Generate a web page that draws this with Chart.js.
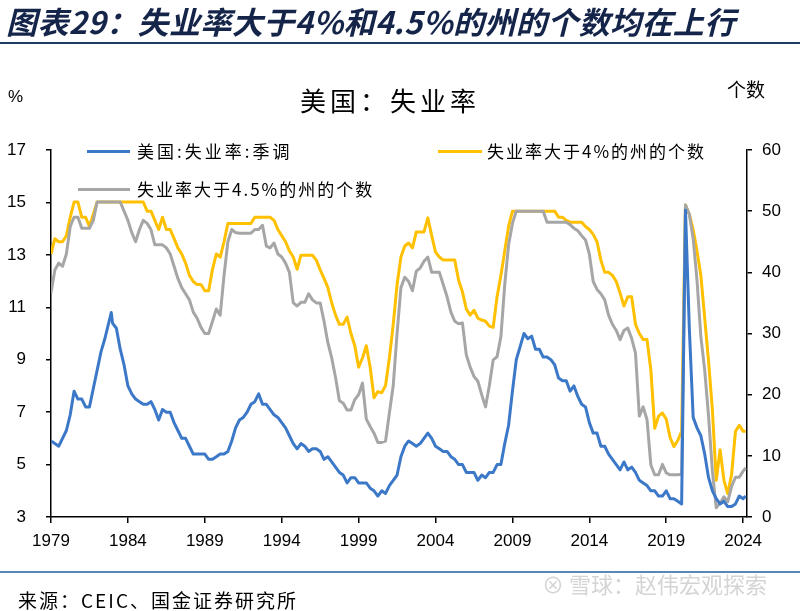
<!DOCTYPE html>
<html>
<head>
<meta charset="utf-8">
<script src="https://cdn.jsdelivr.net/npm/chart.js@4"></script>
<style>
  body { margin: 0; background: #fff; }
  #page { position: relative; width: 800px; height: 611px; overflow: hidden; font-family: "Noto Sans CJK SC", sans-serif; }
  #box { position: absolute; left: 0; top: 0; width: 800px; height: 611px; }
  .t { position: absolute; white-space: nowrap; line-height: 1; color: #000; }
  .ln { position: absolute; height: 3px; }
</style>
</head>
<body>
<div id="page">
  <div id="box"><canvas id="chart"></canvas></div>

  <div class="t" style="left:6px;top:5px;font-size:31px;font-weight:bold;font-style:italic;color:#15254a;letter-spacing:0.4px">图表29：失业率大于4%和4.5%的州的个数均在上行</div>
  <div style="position:absolute;left:0;top:42px;width:800px;height:2px;background:#1f3a60"></div>

  <div class="t" style="left:8px;top:88px;font-size:17px;font-family:'Liberation Sans',Arial">%</div>
  <div class="t" style="left:290px;width:200px;text-align:center;top:87px;font-size:26px;letter-spacing:4px">美国：失业率</div>
  <div class="t" style="left:727px;top:79px;font-size:19px">个数</div>

  <div class="ln" style="left:87px;top:150px;width:43px;background:#3c78c8"></div>
  <div class="t" style="left:137px;top:142px;font-size:17px;letter-spacing:3px">美国:失业率:季调</div>
  <div class="ln" style="left:438px;top:150px;width:44px;background:#ffc000"></div>
  <div class="t" style="left:487px;top:142px;font-size:17px;letter-spacing:2px">失业率大于4%的州的个数</div>
  <div class="ln" style="left:78px;top:188px;width:52px;background:#a6a6a6"></div>
  <div class="t" style="left:137px;top:180px;font-size:17px;letter-spacing:2px">失业率大于4.5%的州的个数</div>

  <div style="position:absolute;left:0;top:571px;width:800px;height:2px;background:#5a87b4"></div>
  <div class="t" style="left:18px;top:590px;font-size:19px;letter-spacing:2px">来源：CEIC、国金证券研究所</div>
  <div class="t" style="left:542px;top:572px;font-size:22px;color:#d4d4d4">⊗ 雪球：赵伟宏观探索</div>
</div>

<script>
// 时间（年-月），季度取样
const months = [
  "1979-01","1979-04","1979-07","1979-10",
  "1980-01","1980-04","1980-07","1980-10",
  "1981-01","1981-04","1981-07","1981-10",
  "1982-01","1982-04","1982-07","1982-10","1982-12",
  "1983-01","1983-04","1983-07","1983-10",
  "1984-01","1984-04","1984-07","1984-10",
  "1985-01","1985-04","1985-07","1985-10",
  "1986-01","1986-04","1986-07","1986-10",
  "1987-01","1987-04","1987-07","1987-10",
  "1988-01","1988-04","1988-07","1988-10",
  "1989-01","1989-04","1989-07","1989-10",
  "1990-01","1990-04","1990-07","1990-10",
  "1991-01","1991-04","1991-07","1991-10",
  "1992-01","1992-04","1992-07","1992-10",
  "1993-01","1993-04","1993-07","1993-10",
  "1994-01","1994-04","1994-07","1994-10",
  "1995-01","1995-04","1995-07","1995-10",
  "1996-01","1996-04","1996-07","1996-10",
  "1997-01","1997-04","1997-07","1997-10",
  "1998-01","1998-04","1998-07","1998-10",
  "1999-01","1999-04","1999-07","1999-10",
  "2000-01","2000-04","2000-07","2000-10",
  "2001-01","2001-04","2001-07","2001-10",
  "2002-01","2002-04","2002-07","2002-10",
  "2003-01","2003-04","2003-07","2003-10",
  "2004-01","2004-04","2004-07","2004-10",
  "2005-01","2005-04","2005-07","2005-10",
  "2006-01","2006-04","2006-07","2006-10",
  "2007-01","2007-04","2007-07","2007-10",
  "2008-01","2008-04","2008-07","2008-10",
  "2009-01","2009-04","2009-07","2009-10",
  "2010-01","2010-04","2010-07","2010-10",
  "2011-01","2011-04","2011-07","2011-10",
  "2012-01","2012-04","2012-07","2012-10",
  "2013-01","2013-04","2013-07","2013-10",
  "2014-01","2014-04","2014-07","2014-10",
  "2015-01","2015-04","2015-07","2015-10",
  "2016-01","2016-04","2016-07","2016-10",
  "2017-01","2017-04","2017-07","2017-10",
  "2018-01","2018-04","2018-07","2018-10",
  "2019-01","2019-04","2019-07","2019-10",
  "2020-01","2020-04","2020-07","2020-10",
  "2021-01","2021-04","2021-07","2021-10",
  "2022-01","2022-04","2022-07","2022-10",
  "2023-01","2023-04","2023-07","2023-10",
  "2024-01","2024-03"
];

// 美国:失业率:季调 (%)
const unemployment = [
  5.9,5.8,5.7,6.0,
  6.3,6.9,7.8,7.5,
  7.5,7.2,7.2,7.9,
  8.6,9.3,9.8,10.4,10.8,
  10.4,10.2,9.4,8.8,
  8.0,7.7,7.5,7.4,
  7.3,7.3,7.4,7.1,
  6.7,7.1,7.0,7.0,
  6.6,6.3,6.0,6.0,
  5.7,5.4,5.4,5.4,
  5.4,5.2,5.2,5.3,
  5.4,5.4,5.5,5.9,
  6.4,6.7,6.8,7.0,
  7.3,7.4,7.7,7.3,
  7.3,7.1,6.9,6.8,
  6.6,6.4,6.1,5.8,
  5.6,5.8,5.7,5.5,
  5.6,5.6,5.5,5.2,
  5.3,5.1,4.9,4.7,
  4.6,4.3,4.5,4.5,
  4.3,4.3,4.3,4.1,
  4.0,3.8,4.0,3.9,
  4.2,4.4,4.6,5.3,
  5.7,5.9,5.8,5.7,
  5.8,6.0,6.2,6.0,
  5.7,5.6,5.5,5.5,
  5.3,5.2,5.0,5.0,
  4.7,4.7,4.7,4.4,
  4.6,4.5,4.7,4.7,
  5.0,5.0,5.8,6.5,
  7.8,9.0,9.5,10.0,
  9.8,9.9,9.4,9.4,
  9.1,9.1,9.0,8.8,
  8.3,8.2,8.2,7.8,
  8.0,7.6,7.3,7.2,
  6.6,6.2,6.2,5.7,
  5.7,5.4,5.2,5.0,
  4.8,5.1,4.8,4.9,
  4.7,4.4,4.3,4.2,
  4.0,4.0,3.8,3.8,
  4.0,3.7,3.7,3.6,
  3.5,14.7,10.2,6.8,
  6.4,6.1,5.4,4.5,
  4.0,3.7,3.5,3.6,
  3.4,3.4,3.5,3.8,
  3.7,3.8
];

// 失业率大于4%的州的个数
const states4 = [
  43,45.5,45,45,
  46,49,51.5,51.5,
  49,49,47.5,49.5,
  51.5,51.5,51.5,51.5,51.5,
  51.5,51.5,51.5,51.5,
  51.5,51.5,51.5,51.5,
  51.5,50,50,48.5,
  47,49,47,47,
  45.5,44,43,41.5,
  39.5,38.5,38,38,
  37,37,40.5,43,
  42.5,45,48,48,
  48,48,48,48,
  48,49,49,49,
  49,49,48.5,47,
  46,45,43.5,42.5,
  40.5,42.8,42.8,42.8,
  42.8,42,40.4,39,
  37.5,35,33,31.5,
  31.5,32.7,30,28,
  24.5,26,28,24.5,
  19.5,20.5,20.3,21.5,
  26,31.5,38,42.5,
  44.3,44.8,44,46.6,
  46.6,46.6,48.9,46,
  43.3,42.5,42,42,
  42,42,38.7,36.8,
  34,33,33.8,32.5,
  32.2,32,31.2,31,
  36,39.5,43.5,47.5,
  50,50,50,50,
  50,50,50,50,
  50,50,50,50,
  49,49,48.5,48.2,
  48.2,48.2,48.2,47.5,
  47,46.2,45,42,
  40,40,39.5,38.5,
  36.6,34.5,36,36,
  31.5,30,29,29,
  24,14.5,16.5,17,
  16,13,11.5,12.5,
  14,51,49.5,47,
  43.5,39.5,32.5,25.5,
  17.5,6,11,6,
  3.8,7,14,15,
  14,14
];

// 失业率大于4.5%的州的个数
const states45 = [
  36.6,40.4,41.5,41,
  43,47.5,49,49,
  47.2,47.2,47.2,48.5,
  51.5,51.5,51.5,51.5,51.5,
  51.5,51.5,51.5,50,
  48.5,46.5,45,47,
  48.5,48,47,44.5,
  44.5,44.5,44,43,
  41,39,37.5,36.5,
  35.5,33.5,32.5,31,
  30,30,32,34,
  33,39.5,45,47,
  46.5,46.4,46.4,46.4,
  46.4,47,47,47.7,
  44.3,44,44.8,43,
  42.5,41.5,40,35,
  34.5,35.1,35.1,36.5,
  35.5,35,35,32,
  28.5,26,22.8,19,
  18.6,17.5,17.5,19.2,
  20,21.9,16,14.8,
  13.7,12.2,12.2,12.4,
  17,21.5,30,37.5,
  39.2,38.5,37,40.2,
  40.7,41.8,42.5,40,
  40,40,38,36,
  33.5,32,31.6,31.7,
  26.5,24.5,23,22.2,
  20,18,21.5,25.7,
  26.2,29.5,38,44.5,
  48,50,50,50,
  50,50,50,50,
  50,48.2,48.2,48.2,
  48.2,48.2,48.2,47.8,
  47.2,46.8,46,45.3,
  43,38.5,37.2,36.5,
  35.5,33,31.5,30.5,
  29,30.5,30.9,29.2,
  26.8,16.5,18,15.9,
  8.5,6.9,6.9,8.6,
  7.2,6.9,6.9,6.9,
  7,51,49.5,45.5,
  38.7,29.5,24,16.5,
  7.5,1.5,2.3,3.3,
  2.5,5,6.5,6.5,
  7.5,8
];

// 坐标轴刻度
const yearTicks = [1979, 1984, 1989, 1994, 1999, 2004, 2009, 2014, 2019, 2024];
const leftTicks = [3, 5, 7, 9, 11, 13, 15, 17];
const rightTicks = [0, 10, 20, 30, 40, 50, 60];

function toYear(s) {
  const [y, m] = s.split("-").map(Number);
  return y + (m - 1) / 12;
}
const toPoints = (arr) => arr.map((v, i) => ({ x: toYear(months[i]), y: v }));

const tickFont = { family: "'Liberation Sans', Arial, sans-serif", size: 17 };
const axisLine = { display: true, color: "#000", width: 1.5 };
const axisGrid = { drawOnChartArea: false, drawTicks: true, tickLength: 5, color: "#000", lineWidth: 1.5 };

new Chart(document.getElementById("chart"), {
  type: "line",
  data: {
    datasets: [
      { label: "美国:失业率:季调", data: toPoints(unemployment), borderColor: "#3c78c8", yAxisID: "y" },
      { label: "失业率大于4.5%的州的个数", data: toPoints(states45), borderColor: "#a6a6a6", yAxisID: "y2" },
      { label: "失业率大于4%的州的个数", data: toPoints(states4), borderColor: "#ffc000", yAxisID: "y2" },
    ],
  },
  options: {
    responsive: true,
    maintainAspectRatio: false,
    animation: false,
    layout: { padding: { top: 150, left: 0, right: 0, bottom: 54 } },
    elements: {
      point: { radius: 0 },
      line: { borderWidth: 3, tension: 0, borderJoinStyle: "round" },
    },
    plugins: { legend: { display: false }, tooltip: { enabled: false } },
    scales: {
      x: {
        type: "linear",
        min: 1979,
        max: 2024.25,
        afterBuildTicks: (s) => { s.ticks = yearTicks.map((v) => ({ value: v })); },
        afterFit: (s) => { s.height = 40; },
        ticks: { font: tickFont, color: "#000", padding: 8, maxRotation: 0, autoSkip: false, callback: (v) => String(v) },
        grid: { ...axisGrid, tickLength: 6 },
        border: axisLine,
      },
      y: {
        position: "left",
        min: 3,
        max: 17,
        afterBuildTicks: (s) => { s.ticks = leftTicks.map((v) => ({ value: v })); },
        afterFit: (s) => { s.width = 51; },
        ticks: { font: tickFont, color: "#000", padding: 20 },
        grid: axisGrid,
        border: axisLine,
      },
      y2: {
        position: "right",
        min: 0,
        max: 60,
        afterBuildTicks: (s) => { s.ticks = rightTicks.map((v) => ({ value: v })); },
        afterFit: (s) => { s.width = 53; },
        ticks: { font: tickFont, color: "#000", padding: 10 },
        grid: axisGrid,
        border: axisLine,
      },
    },
  },
});
</script>
</body>
</html>
